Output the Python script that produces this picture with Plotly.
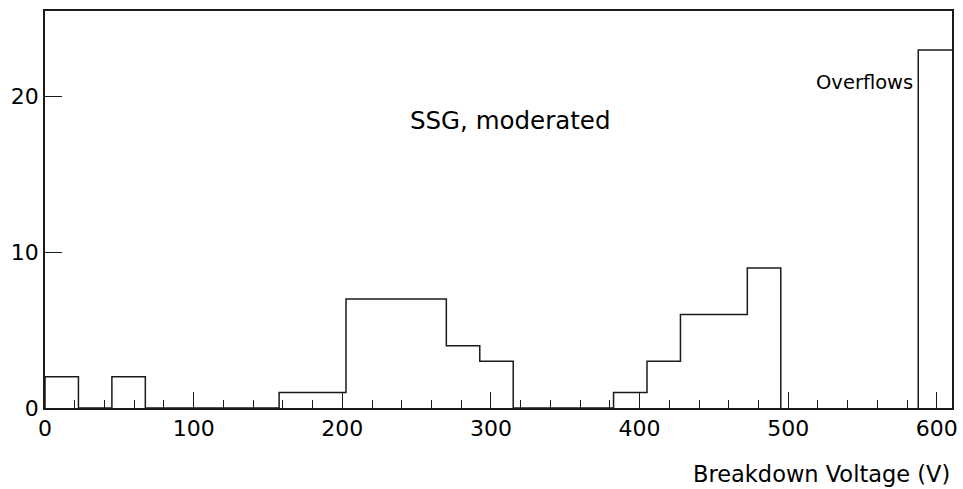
import plotly.graph_objects as go

# Breakdown voltage histogram (22.5 V bins) plus an overflow bin
bin_edges = [0, 22.5, 45, 67.5, 90, 112.5, 135, 157.5, 180, 202.5, 225, 247.5,
             270, 292.5, 315, 337.5, 360, 382.5, 405, 427.5, 450, 472.5, 495]
counts = [2, 0, 2, 0, 0, 0, 0, 1, 1, 7, 7, 7, 4, 3, 0, 0, 0, 1, 3, 6, 6, 9]

overflow_edges = [587.5, 610.2]
overflow_count = 23

x_ticks = [0, 100, 200, 300, 400, 500, 600]
y_ticks = [0, 10, 20]

FONT = "DejaVu Sans"
INK = "#1a1a1a"

fig = go.Figure()

# step outline of the histogram
fig.add_trace(go.Scatter(
    x=[bin_edges[0]] + bin_edges,
    y=[0] + counts + [0],
    mode="lines",
    line=dict(shape="hv", color=INK, width=1.5),
    hoverinfo="skip",
    showlegend=False,
))

# overflow bin
fig.add_trace(go.Scatter(
    x=[overflow_edges[0], overflow_edges[0], overflow_edges[1]],
    y=[0, overflow_count, overflow_count],
    mode="lines",
    line=dict(color=INK, width=1.5),
    hoverinfo="skip",
    showlegend=False,
))

fig.update_layout(
    width=963,
    height=489,
    margin=dict(l=45, r=11, t=11, b=81, autoexpand=False),
    paper_bgcolor="white",
    plot_bgcolor="white",
    font=dict(family=FONT, size=22, color="black"),
    xaxis=dict(
        range=[0, 610.2],
        automargin=False,
        tickmode="array",
        tickvals=x_ticks,
        ticktext=[str(v) for v in x_ticks],
        ticks="inside",
        ticklen=16,
        tickwidth=1,
        tickcolor=INK,
        minor=dict(ticks="inside", ticklen=8, dtick=20, tickcolor=INK, tickwidth=1),
        showgrid=False,
        zeroline=False,
        showline=True,
        linecolor=INK,
        linewidth=1.5,
        mirror=True,
        tickfont=dict(family=FONT, size=22, color="black"),
    ),
    yaxis=dict(
        range=[0, 25.5],
        automargin=False,
        tickmode="array",
        tickvals=y_ticks,
        ticktext=[str(v) for v in y_ticks],
        ticks="inside",
        ticklen=17,
        tickwidth=1,
        tickcolor=INK,
        showgrid=False,
        zeroline=False,
        showline=True,
        linecolor=INK,
        linewidth=1.5,
        mirror=True,
        tickfont=dict(family=FONT, size=22, color="black"),
    ),
    annotations=[
        dict(text="SSG, moderated", x=312.7, y=18.45, xref="x", yref="y",
             showarrow=False, xanchor="center", yanchor="middle",
             font=dict(family=FONT, size=24.5, color="black")),
        dict(text="Overflows", x=585.5, y=20.9, xref="x", yref="y",
             showarrow=False, xanchor="right", yanchor="middle",
             font=dict(family=FONT, size=19.5, color="black")),
        dict(text="Breakdown Voltage (V)", x=1.0, y=-0.165, xref="paper", yref="paper",
             showarrow=False, xanchor="right", yanchor="middle",
             font=dict(family=FONT, size=22.5, color="black")),
    ],
)

fig.write_html("out.html")
